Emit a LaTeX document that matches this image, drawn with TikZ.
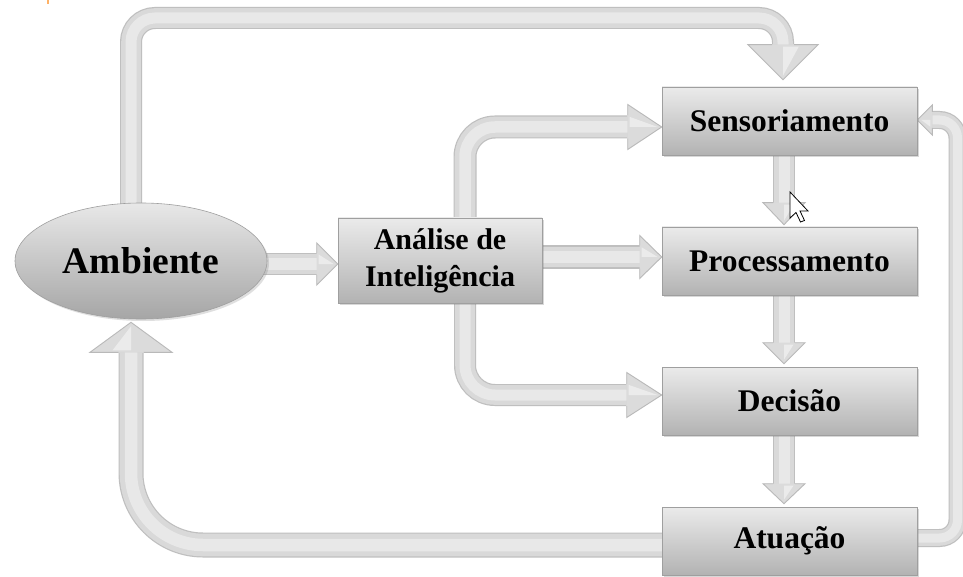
\documentclass[tikz,border=0pt]{standalone}
\usepackage{fontspec}
\setmainfont{Liberation Serif}
\usetikzlibrary{calc,shapes.geometric,shadows}
\pgfdeclarelayer{paper}
\pgfdeclarelayer{background}
\pgfsetlayers{paper,background,main}

\tikzset{
  block/.style={rectangle, draw=gray!75, line width=0.6pt,
    top color=gray!16, bottom color=gray!60,
    minimum width=255pt, minimum height=68pt, inner sep=0pt,
    font=\bfseries\fontsize{31.5}{37}\selectfont,
    drop shadow={opacity=0.3, shadow xshift=2pt, shadow yshift=-2pt}},
  oval/.style={ellipse, draw=gray!75, line width=0.6pt,
    top color=gray!18, bottom color=gray!70,
    minimum width=252pt, minimum height=116pt, inner sep=0pt,
    font=\bfseries\fontsize{37.5}{44}\selectfont,
    drop shadow={opacity=0.25, shadow xshift=2pt, shadow yshift=-2pt}},
}

% a shaded tube along a path: #1 width in pt, #2 the path
\newcommand\tube[2]{%
  \draw[line width=#1pt, draw=gray!50, line cap=butt] #2;
  \draw[line width=#1pt-2.4pt, draw=gray!30, line cap=butt] #2;
  \draw[line width=#1pt*0.5, draw=gray!18, line cap=butt] #2;
}
% arrow head: tip, direction, length, half width, half width of the shaft
\newcommand\head[5]{%
  \begin{scope}[shift={(#1)}, rotate=#2]
    \fill[gray!28] (0pt,0pt) -- (-#3pt,#4pt) -- (-#3pt,-#4pt) -- cycle;
    \fill[gray!16] (-#3pt+2pt,0pt) -- (-#3pt+2pt,#4pt*0.45) -- (-4pt,0pt) -- cycle;
    \draw[gray!55, line width=0.9pt, line join=miter]
      (-#3pt,#5pt) -- (-#3pt,#4pt) -- (0pt,0pt) -- (-#3pt,-#4pt) -- (-#3pt,-#5pt);
  \end{scope}}

\begin{document}
\begin{tikzpicture}[x=1pt, y=-1pt]
  \useasboundingbox (0,0) rectangle (963,577);
  \begin{pgfonlayer}{paper}
    \fill[white] (0,0) rectangle (963,577);
  \end{pgfonlayer}

  % blocks
  \node[oval] (amb) at (141,261) {Ambiente};
  \node[block, minimum width=204pt, minimum height=85pt, align=center,
        font=\bfseries\fontsize{30}{37}\selectfont] (ana) at (440,260.5) {Análise de\\Inteligência};
  \node[block] (sens) at (789.5,121) {Sensoriamento};
  \node[block] (proc) at (789.5,261) {Processamento};
  \node[block] (dec)  at (789.5,401) {Decisão};
  \node[block] (atu)  at (789.5,541) {Atuação};

  % end points of the connectors
  \coordinate (s1) at ($(amb.north)+(-10,4)$);
  \coordinate (t1) at ($(sens.north)+(-6.5,-7)$);
  \coordinate (b1) at ($(t1)+(0,-35)$);
  \coordinate (y1) at (0,18);

  \coordinate (s2) at ($(ana.north)+(25,2)$);
  \coordinate (t2) at ($(sens.west)+(0,6)$);
  \coordinate (b2) at ($(t2)+(-34,0)$);

  \coordinate (s3) at ($(amb.east)+(-5,3)$);
  \coordinate (t3) at ($(ana.west)+(0,3.5)$);
  \coordinate (b3) at ($(t3)+(-21,0)$);

  \coordinate (s4) at ($(ana.east)+(-2,-3.5)$);
  \coordinate (t4) at ($(proc.west)+(0,-4)$);
  \coordinate (b4) at ($(t4)+(-22,0)$);

  \coordinate (s5) at ($(ana.south)+(25,-2)$);
  \coordinate (t5) at ($(dec.west)+(0,-6)$);
  \coordinate (b5) at ($(t5)+(-35,0)$);

  \coordinate (s6) at ($(sens.south)+(-5.5,-2)$);
  \coordinate (t6) at ($(proc.north)+(-5.5,-2)$);
  \coordinate (b6) at ($(t6)+(0,-22)$);

  \coordinate (s7) at ($(proc.south)+(-5.5,-2)$);
  \coordinate (t7) at ($(dec.north)+(-5.5,-3)$);
  \coordinate (b7) at ($(t7)+(0,-21)$);

  \coordinate (s8) at ($(dec.south)+(-5.5,-2)$);
  \coordinate (t8) at ($(atu.north)+(-5.5,-3)$);
  \coordinate (b8) at ($(t8)+(0,-20)$);

  \coordinate (s9) at ($(atu.west)+(2,4)$);
  \coordinate (t9) at ($(amb.south)+(-10,3)$);
  \coordinate (b9) at ($(t9)+(0,30)$);

  \coordinate (s10) at ($(atu.east)+(-2,-3)$);
  \coordinate (t10) at ($(sens.east)+(0,-1)$);
  \coordinate (b10) at ($(t10)+(15,0)$);
  \coordinate (r10) at (957.5,0);

  \begin{pgfonlayer}{background}
    \tube{22}{[rounded corners=24pt] (s1) |- (b1 |- y1) -- (b1)}
    \head{t1}{-90}{35}{35}{11}

    \tube{23}{[rounded corners=30pt] (s2) |- (b2)}
    \head{t2}{0}{34}{22.5}{11.5}

    \tube{22}{(s3) -- (b3)}
    \head{t3}{0}{21}{21}{11}

    \tube{23}{(s4) -- (b4)}
    \head{t4}{0}{22}{21.5}{11.5}

    \tube{22}{[rounded corners=30pt] (s5) |- (b5)}
    \head{t5}{0}{35}{22.5}{11}

    \tube{22}{(s6) -- (b6)}
    \head{t6}{-90}{22}{21}{11}

    \tube{22}{(s7) -- (b7)}
    \head{t7}{-90}{21}{21}{11}

    \tube{22}{(s8) -- (b8)}
    \head{t8}{-90}{20}{21}{11}

    \tube{25}{[rounded corners=72pt] (s9) -| (b9)}
    \head{t9}{90}{30}{41}{12.5}

    \tube{18}{[rounded corners=18pt] (s10) -| (r10 |- b10) -- (b10)}
    \head{t10}{180}{15}{15}{8}
  \end{pgfonlayer}

  % mouse pointer
  \begin{scope}[shift={(790,192)}]
    \filldraw[fill=white, draw=black, line width=0.8pt, line join=miter]
      (0,0) -- (0,26) -- (6,20.5) -- (10.5,30) -- (14.5,28.5) -- (10,19) -- (18,19) -- cycle;
  \end{scope}

  % small orange tick at the top edge
  \draw[orange!60, line width=1.5pt] (48,0) -- (48,4);
\end{tikzpicture}
\end{document}
